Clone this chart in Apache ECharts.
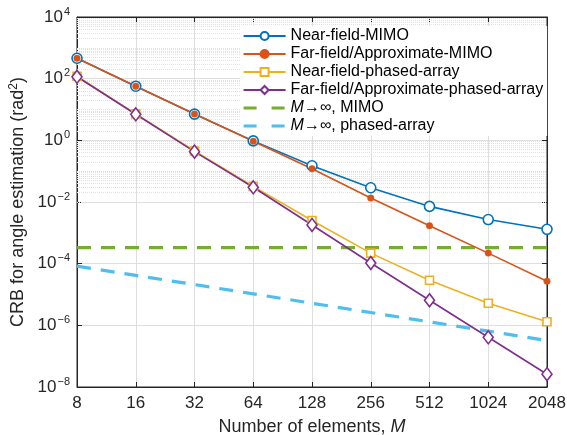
<!DOCTYPE html>
<html>
<head>
<meta charset="utf-8">
<script src="https://cdn.jsdelivr.net/npm/echarts@6/dist/echarts.min.js"></script>
<style>html,body{margin:0;padding:0;background:#fff;}#c{width:567px;height:435px;}</style>
</head>
<body>
<div id="c"></div>
<script>
const elements = [8, 16, 32, 64, 128, 256, 512, 1024, 2048];
const nearMIMO = [460, 57, 7.1, 0.96, 0.15, 0.029, 0.0072, 0.0027, 0.0013];
const farMIMO = [460, 57, 7.1, 0.93, 0.12, 0.0134, 0.0017, 0.00022, 0.000027];
const nearPA = [120, 7.2, 0.45, 0.032, 0.0025, 0.00022, 0.000029, 0.0000052, 0.0000013];
const farPA = [115, 7.0, 0.43, 0.030, 0.0018, 0.000105, 0.0000065, 0.00000041, 0.000000026];
const limMIMO = [3.3e-4, 3.3e-4, 3.3e-4, 3.3e-4, 3.3e-4, 3.3e-4, 3.3e-4, 3.3e-4, 3.3e-4];
const limPA = [8.3e-5, 4.15e-5, 2.1e-5, 1.05e-5, 5.2e-6, 2.6e-6, 1.3e-6, 6.5e-7, 3.2e-7];
const yMinExp = -8, yMaxExp = 4;

const FONT = 'Liberation Sans, Arial, sans-serif';
const pairs = arr => elements.map((m, i) => [m, arr[i]]);

const minorVals = [];
for (let e = yMinExp; e < yMaxExp; e++) {
  for (let k = 2; k <= 9; k++) minorVals.push(k * Math.pow(10, e));
}
for (let e = yMinExp + 1; e < yMaxExp; e += 2) minorVals.push(Math.pow(10, e));

const chart = echarts.init(document.getElementById('c'), null, {renderer: 'canvas'});
const supMap = v => {
  const e = Math.round(Math.log10(v));
  return '10{s|' + (e < 0 ? '\u2212' + (-e) : e) + '}';
};

const lineS = (name, data, color, symbol, size, filled) => ({
  name, type: 'line', data: pairs(data), symbol, symbolSize: size,
  lineStyle: {color, width: 1.6},
  itemStyle: {color: filled ? color : '#fff', borderColor: color, borderWidth: filled ? 0.5 : 1.6},
  showAllSymbol: true, z: 5, animation: false
});

const legText = {fontFamily: FONT, fontSize: 16, color: '#000', lineHeight: 18};

chart.setOption({
  animation: false,
  grid: {left: 77, right: 20, top: 17, bottom: 48, show: true, containLabel: false, outerBoundsMode: 'none',
         borderColor: '#262626', borderWidth: 1, backgroundColor: '#fff'},
  xAxis: [{
    type: 'log', logBase: 2, min: 8, max: 2048, interval: 1,
    name: 'Number of elements, {i|M}', nameLocation: 'middle', nameGap: 31,
    nameTextStyle: {fontFamily: FONT, fontSize: 18, color: '#262626', rich: {i: {fontStyle: 'italic', fontFamily: FONT, fontSize: 18, color: '#262626'}}},
    axisLine: {show: true, lineStyle: {color: '#262626'}},
    axisTick: {show: true, inside: true, length: 5, lineStyle: {color: '#262626'}},
    axisLabel: {fontFamily: FONT, fontSize: 17, color: '#262626', margin: 8, formatter: v => String(Math.round(v))},
    splitLine: {show: true, lineStyle: {color: '#dedede', width: 1}}
  }, {
    type: 'log', logBase: 2, min: 8, max: 2048, interval: 1, position: 'top',
    axisLine: {show: true, lineStyle: {color: '#262626'}},
    axisTick: {show: true, inside: true, length: 5, lineStyle: {color: '#262626'}},
    axisLabel: {show: false}, splitLine: {show: false}
  }],
  yAxis: [{
    type: 'log', logBase: 10, min: 1e-8, max: 1e4, interval: 2,
    name: 'CRB for angle estimation (rad{s|2})', nameLocation: 'middle', nameGap: 49, nameRotate: 90,
    nameTextStyle: {fontFamily: FONT, fontSize: 18, color: '#262626', rich: {s: {fontFamily: FONT, fontSize: 12, verticalAlign: 'top', color: '#262626', padding: [0,0,7,0]}}},
    axisLine: {show: true, lineStyle: {color: '#262626'}},
    axisTick: {show: true, inside: true, length: 5, lineStyle: {color: '#262626'}},
    axisLabel: {
      fontFamily: FONT, fontSize: 17, color: '#262626', margin: 7, formatter: supMap,
      rich: {s: {fontFamily: FONT, fontSize: 11, color: '#262626', padding: [0, 0, 11, 1]}}
    },
    splitLine: {show: true, lineStyle: {color: '#dedede', width: 1}}
  }, {
    type: 'log', logBase: 10, min: 1e-8, max: 1e4, interval: 2, position: 'right',
    axisLine: {show: true, lineStyle: {color: '#262626'}},
    axisTick: {show: true, inside: true, length: 5, lineStyle: {color: '#262626'}},
    axisLabel: {show: false}, splitLine: {show: false}
  }],
  legend: {
    orient: 'vertical', left: 240, top: 26, itemWidth: 42, itemHeight: 10, itemGap: 0,
    backgroundColor: '#fff', padding: [1, 4, 1, 2],
    data: [
      {name: 'Near-field-MIMO'},
      {name: 'Far-field/Approximate-MIMO'},
      {name: 'Near-field-phased-array'},
      {name: 'Far-field/Approximate-phased-array'},
      {name: 'limMIMO', itemStyle: {opacity: 0}, lineStyle: {width: 3.2, type: [13, 15]}},
      {name: 'limPA', itemStyle: {opacity: 0}, lineStyle: {width: 3.2, type: [13, 15]}}
    ],
    formatter: n => n === 'limMIMO' ? '{i|M}\u2192\u221e, MIMO' : n === 'limPA' ? '{i|M}\u2192\u221e, phased-array' : n,
    textStyle: Object.assign({}, legText, {rich: {i: Object.assign({}, legText, {fontStyle: 'italic'})}}),
    z: 3
  },
  series: [
    {
      name: 'grid', type: 'line', data: [], symbol: 'none', silent: true, z: 1,
      markLine: {
        silent: true, z: 1, symbol: ['none', 'none'], label: {show: false}, animation: false,
        lineStyle: {color: '#e2e2e2', type: [1, 1], width: 1},
        data: minorVals.map(v => ({yAxis: v}))
      }
    },
    lineS('Near-field-MIMO', nearMIMO, '#0072BD', 'circle', 10, false),
    lineS('Far-field/Approximate-MIMO', farMIMO, '#D95319', 'circle', 6.5, true),
    lineS('Near-field-phased-array', nearPA, '#EDB120', 'rect', 8, false),
    lineS('Far-field/Approximate-phased-array', farPA, '#7E2F8E', 'diamond', [10, 13], false),
    {name: 'limMIMO', type: 'line', data: pairs(limMIMO), symbol: 'none', z: 4,
     lineStyle: {color: '#77AC30', width: 3.2, type: [14, 10]}, itemStyle: {color: '#77AC30'}},
    {name: 'limPA', type: 'line', data: pairs(limPA), symbol: 'none', z: 4,
     lineStyle: {color: '#4DBEEE', width: 3.2, type: [14, 10]}, itemStyle: {color: '#4DBEEE'}}
  ]
});
</script>
</body>
</html>
